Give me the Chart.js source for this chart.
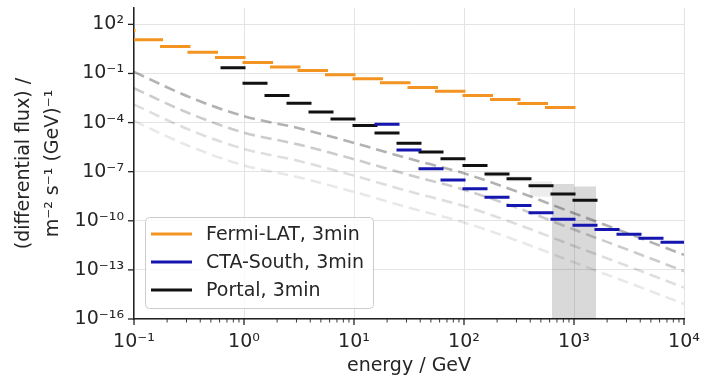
<!DOCTYPE html>
<html>
<head>
<meta charset="utf-8">
<script src="https://cdn.jsdelivr.net/npm/chart.js@4.4.1/dist/chart.umd.min.js"></script>
<style>
  body { margin: 0; background: #fff; }
  canvas { display: block; }
</style>
</head>
<body>
<canvas id="fluxChart" width="703" height="377"></canvas>
<script>
// bin edges in GeV and flux per bin
const fermiEdges = [0.0562, 0.1, 0.178, 0.316, 0.562, 1, 1.78, 3.16, 5.62, 10, 17.8, 31.6, 56.2, 100, 178, 316, 562, 1000];
const fermiFlux = [42.7, 11.5, 4.5, 2.0, 0.95, 0.47, 0.245, 0.151, 0.083, 0.047, 0.027, 0.0138, 0.0083, 0.0045, 0.0026, 0.00145, 0.00083];

const ctaEdges = [15.85, 25.12, 39.81, 63.1, 100, 158.5, 251.2, 398.1, 631, 1000, 1585, 2512, 3981, 6310, 10000];
const ctaFlux = [7.9e-5, 2.1e-6, 1.5e-7, 3.1e-8, 9.1e-9, 2.7e-9, 8.7e-10, 3.1e-10, 1.26e-10, 5.4e-11, 2.95e-11, 1.5e-11, 8.7e-12, 4.9e-12];

const portalEdges = [0.631, 1, 1.585, 2.512, 3.981, 6.31, 10, 15.85, 25.12, 39.81, 63.1, 100, 158.5, 251.2, 398.1, 631, 1000, 1585];
const portalFlux = [0.22, 0.0251, 0.00447, 0.00151, 4.5e-4, 1.66e-4, 6.6e-5, 2.3e-5, 5.4e-6, 1.6e-6, 6.2e-7, 2.4e-7, 7.2e-8, 3.7e-8, 1.4e-8, 4.3e-9, 1.8e-9];

// grey dashed model curves
const curveEnergy = [0.1, 0.316, 1, 3.16, 10, 31.6, 100, 316, 1000, 3162, 10000];
const curveA = [0.126, 3.7e-3, 2.45e-4, 4.5e-5, 5.75e-6, 6.3e-7, 7.9e-8, 5.6e-9, 2.9e-10, 1.6e-11, 8.3e-13];
const curveB = [0.0126, 3.7e-4, 2.45e-5, 4.5e-6, 5.75e-7, 6.3e-8, 7.9e-9, 5.6e-10, 2.9e-11, 1.6e-12, 8.3e-14];
const curveC = [1.26e-3, 3.7e-5, 2.45e-6, 4.5e-7, 5.75e-8, 6.3e-9, 7.9e-10, 5.6e-11, 2.9e-12, 1.6e-13, 8.3e-15];
const curveD = [1.26e-4, 3.7e-6, 2.45e-7, 4.5e-8, 5.75e-9, 6.3e-10, 7.9e-11, 5.6e-12, 2.9e-13, 1.6e-14, 8.3e-16];

// shaded regions
const shadeEdges = [158.5, 251.2, 398.1, 631];
const shadeHigh = [8.7e-8, 5.2e-8, 2.6e-8];
const shadeLow = [4.9e-8, 2.5e-8, 2.95e-9];
const bandEdges = [631, 1000, 1585];
const bandTop = [1.74e-8, 1.26e-8];

const xMajorTicks = [0.1, 1, 10, 100, 1000, 10000];
const xTickLabels = ["10⁻¹", "10⁰", "10¹", "10²", "10³", "10⁴"];
const xMinorSteps = [2, 3, 4, 5, 6, 7, 8, 9];
const yTicks = [1e-16, 1e-13, 1e-10, 1e-7, 1e-4, 1e-1, 1e2];
const yTickLabels = ["10⁻¹⁶", "10⁻¹³", "10⁻¹⁰", "10⁻⁷", "10⁻⁴", "10⁻¹", "10²"];

// horizontal segment per bin, broken by a null point
function binSegments(edges, vals) {
  const pts = [];
  vals.forEach((v, i) => {
    pts.push({ x: edges[i], y: v }, { x: edges[i + 1], y: v }, { x: edges[i + 1], y: null });
  });
  return pts;
}

function steps(edges, vals) {
  const pts = vals.map((v, i) => ({ x: edges[i], y: v }));
  pts.push({ x: edges[edges.length - 1], y: vals[vals.length - 1] });
  return pts;
}

function curve(vals) {
  return curveEnergy.map((e, i) => ({ x: e, y: vals[i] }));
}

Chart.defaults.font.family = "DejaVu Sans";
Chart.defaults.font.size = 19;
Chart.defaults.color = "#262626";

const seg = { pointRadius: 0, borderWidth: 3, borderCapStyle: "square", spanGaps: false, fill: false };
const dash = { pointRadius: 0, borderWidth: 2.6, borderDash: [11, 6], cubicInterpolationMode: "monotone", fill: false };

const tickMarks = {
  id: "tickMarks",
  afterDraw(chart) {
    const { ctx, chartArea, scales } = chart;
    ctx.save();
    ctx.strokeStyle = "#222";
    scales.x.ticks.forEach((t) => {
      const px = scales.x.getPixelForValue(t.value);
      ctx.lineWidth = t.major ? 1.3 : 0.9;
      ctx.beginPath();
      ctx.moveTo(px, chartArea.bottom);
      ctx.lineTo(px, chartArea.bottom + (t.major ? 6 : 3.5));
      ctx.stroke();
    });
    ctx.lineWidth = 1.3;
    scales.y.ticks.forEach((t) => {
      const py = scales.y.getPixelForValue(t.value);
      ctx.beginPath();
      ctx.moveTo(chartArea.left - 6, py);
      ctx.lineTo(chartArea.left, py);
      ctx.stroke();
    });
    ctx.restore();
  },
};

const boxLegend = {
  id: "boxLegend",
  afterDraw(chart) {
    const ctx = chart.ctx;
    const x = 145, y = 217, w = 228, h = 91;
    ctx.save();
    ctx.fillStyle = "rgba(255,255,255,0.8)";
    ctx.strokeStyle = "#cccccc";
    ctx.lineWidth = 1;
    ctx.beginPath();
    ctx.roundRect(x + 0.5, y + 0.5, w, h, 4);
    ctx.fill();
    ctx.stroke();
    ctx.font = "19px 'DejaVu Sans'";
    ctx.textBaseline = "middle";
    ctx.fillStyle = "#262626";
    chart.data.datasets.slice(0, 3).forEach((ds, i) => {
      const ly = y + 17 + i * 28;
      ctx.strokeStyle = ds.borderColor;
      ctx.lineWidth = 3;
      ctx.beginPath();
      ctx.moveTo(151, ly);
      ctx.lineTo(192, ly);
      ctx.stroke();
      ctx.fillText(ds.label, 206, ly + 1);
    });
    ctx.restore();
  },
};

const ctx = document.getElementById("fluxChart").getContext("2d");
const fluxChart = new Chart(ctx, {
  type: "line",
  data: {
    datasets: [
      { label: "Fermi-LAT, 3min", data: binSegments(fermiEdges, fermiFlux), borderColor: "#f39322", ...seg },
      { label: "CTA-South, 3min", data: binSegments(ctaEdges, ctaFlux), borderColor: "#1515b0", ...seg },
      { label: "Portal, 3min", data: binSegments(portalEdges, portalFlux), borderColor: "#111111", ...seg },
      { label: "model", data: curve(curveA), borderColor: "rgba(0,0,0,0.3)", ...dash },
      { label: "model /10", data: curve(curveB), borderColor: "rgba(0,0,0,0.2)", ...dash },
      { label: "model /100", data: curve(curveC), borderColor: "rgba(0,0,0,0.13)", ...dash },
      { label: "model /1000", data: curve(curveD), borderColor: "rgba(0,0,0,0.09)", ...dash },
      { label: "band", data: steps(bandEdges, bandTop), stepped: true, pointRadius: 0, borderWidth: 0, fill: "start", backgroundColor: "rgba(0,0,0,0.15)" },
      { label: "shade high", data: steps(shadeEdges, shadeHigh), stepped: true, pointRadius: 0, borderWidth: 0, fill: false },
      { label: "shade low", data: steps(shadeEdges, shadeLow), stepped: true, pointRadius: 0, borderWidth: 0, fill: "-1", backgroundColor: "rgba(0,0,0,0.07)" },
    ],
  },
  options: {
    responsive: false,
    animation: false,
    devicePixelRatio: 1,
    layout: { padding: { left: 6, right: 19, top: 8, bottom: 0 } },
    plugins: {
      legend: { display: false },
      tooltip: { enabled: false },
    },
    scales: {
      x: {
        type: "logarithmic",
        min: 0.1,
        max: 10000,
        afterBuildTicks: (scale) => {
          const t = [];
          xMajorTicks.forEach((m, i) => {
            t.push({ value: m, major: true });
            if (i < xMajorTicks.length - 1) xMinorSteps.forEach((s) => t.push({ value: m * s, major: false }));
          });
          scale.ticks = t;
        },
        afterFit: (scale) => {
          scale.height = 58;
          scale.paddingLeft = 0;
          scale.paddingRight = 0;
        },
        ticks: {
          autoSkip: false,
          maxRotation: 0,
          padding: 12,
          callback: (v) => {
            const i = xMajorTicks.indexOf(v);
            return i >= 0 ? xTickLabels[i] : "";
          },
        },
        grid: {
          drawTicks: false,
          color: (c) => (c.tick && c.tick.major ? "#e4e4e4" : "rgba(0,0,0,0)"),
        },
        border: { color: "#222", width: 1.5 },
        title: {
          display: true,
          text: "energy / GeV",
          font: { size: 19, lineHeight: 1.2 },
          padding: { top: 0, bottom: 0 },
        },
      },
      y: {
        type: "logarithmic",
        min: 1e-16,
        max: 1e3,
        afterBuildTicks: (scale) => {
          scale.ticks = yTicks.map((v) => ({ value: v, major: true }));
        },
        afterFit: (scale) => {
          scale.width = 128;
          scale.paddingTop = 0;
          scale.paddingBottom = 0;
        },
        ticks: {
          autoSkip: false,
          padding: 10,
          callback: (v) => {
            const i = yTicks.indexOf(v);
            return i >= 0 ? yTickLabels[i] : "";
          },
        },
        grid: {
          drawTicks: false,
          color: "#e4e4e4",
        },
        border: { color: "#222", width: 1.5 },
        title: {
          display: true,
          text: ["(differential flux) /", "m⁻² s⁻¹ (GeV)⁻¹"],
          font: { size: 19, lineHeight: 1.55 },
          padding: { top: 3, bottom: 0 },
        },
      },
    },
  },
  plugins: [tickMarks, boxLegend],
});
</script>
</body>
</html>
